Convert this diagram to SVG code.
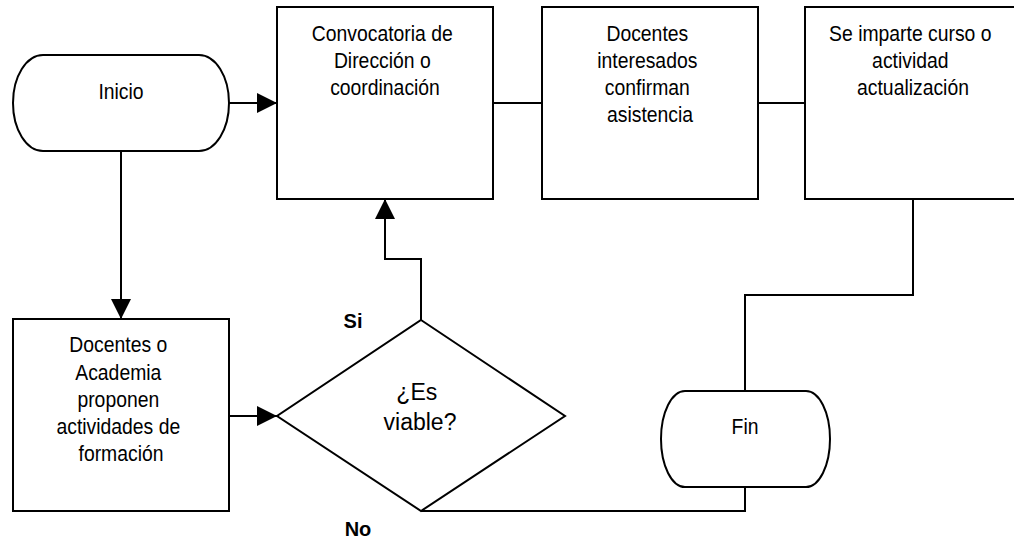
<svg xmlns="http://www.w3.org/2000/svg" width="1014" height="552" viewBox="0 0 1014 552">
  <style>
    .shape { fill: #ffffff; stroke: #000000; stroke-width: 2; }
    .wire { fill: none; stroke: #000000; stroke-width: 2; }
    .lbl { font-family: "Liberation Sans", Arial, sans-serif; font-size: 22px; fill: #000000; text-anchor: middle; }
    .tag { font-family: "Liberation Sans", Arial, sans-serif; font-size: 20px; font-weight: bold; fill: #000000; text-anchor: middle; }
  </style>
  <defs>
    <marker id="arrow" markerUnits="userSpaceOnUse" markerWidth="20" markerHeight="20" refX="20" refY="10" orient="auto" viewBox="0 0 20 20">
      <path d="M0,0 L20,10 L0,20 Z" fill="#000000"/>
    </marker>
  </defs>

  <rect width="1014" height="552" fill="#ffffff"/>

  <!-- connectors -->
  <g id="connectors">
    <path class="wire" d="M229,103 H277" marker-end="url(#arrow)"/>
    <path class="wire" d="M493,103 H542"/>
    <path class="wire" d="M758,103 H805"/>
    <path class="wire" d="M913,199 V295 H745 V391"/>
    <path class="wire" d="M121,151 V319" marker-end="url(#arrow)"/>
    <path class="wire" d="M229,416 H277" marker-end="url(#arrow)"/>
    <path class="wire" d="M421,320 V259 H385 V199" marker-end="url(#arrow)"/>
    <path class="wire" d="M421,511 H745 V487"/>
  </g>

  <!-- start terminator -->
  <g id="inicio">
    <path class="shape" d="M43,55 H199 A30,48 0 0 1 199,151 H43 A30,48 0 0 1 43,55 Z"/>
    <text class="lbl" transform="translate(121 0) scale(0.88 1)" x="0" y="99">Inicio</text>
  </g>

  <g id="convocatoria">
    <rect class="shape" x="277" y="7" width="216" height="192"/>
    <text class="lbl" transform="translate(385 0) scale(0.88 1)">
      <tspan x="0" y="41">Convocatoria de</tspan>
      <tspan x="0" y="68">Dirección o</tspan>
      <tspan x="0" y="95">coordinación</tspan>
    </text>
  </g>

  <g id="confirman">
    <rect class="shape" x="542" y="7" width="216" height="192"/>
    <text class="lbl" transform="translate(650 0) scale(0.88 1)">
      <tspan x="0" y="41">Docentes</tspan>
      <tspan x="0" y="68">interesados</tspan>
      <tspan x="0" y="95">confirman</tspan>
      <tspan x="0" y="122">asistencia</tspan>
    </text>
  </g>

  <g id="curso">
    <rect class="shape" x="805" y="7" width="216" height="192"/>
    <text class="lbl" transform="translate(913 0) scale(0.88 1)">
      <tspan x="0" y="41">Se imparte curso o</tspan>
      <tspan x="0" y="68">actividad</tspan>
      <tspan x="0" y="95">actualización</tspan>
    </text>
  </g>

  <g id="propuesta">
    <rect class="shape" x="13" y="319" width="216" height="192"/>
    <text class="lbl" transform="translate(121 0) scale(0.88 1)">
      <tspan x="0" y="352">Docentes o</tspan>
      <tspan x="0" y="380">Academia</tspan>
      <tspan x="0" y="407">proponen</tspan>
      <tspan x="0" y="434">actividades de</tspan>
      <tspan x="0" y="461">formación</tspan>
    </text>
  </g>

  <!-- decision -->
  <g id="viable">
    <path class="shape" d="M421,320 L565,416 L421,511 L277,416 Z"/>
    <text class="lbl" style="font-size:23px">
      <tspan x="420" y="400">¿Es</tspan>
      <tspan x="420" y="430">viable?</tspan>
    </text>
  </g>

  <g id="etiquetas">
    <text class="tag" x="353" y="328">Si</text>
    <text class="tag" x="358" y="536">No</text>
  </g>

  <!-- end terminator -->
  <g id="fin">
    <path class="shape" d="M685,391 H806 A24,48 0 0 1 806,487 H685 A24,48 0 0 1 685,391 Z"/>
    <text class="lbl" transform="translate(745 0) scale(0.88 1)" x="0" y="434">Fin</text>
  </g>
</svg>
